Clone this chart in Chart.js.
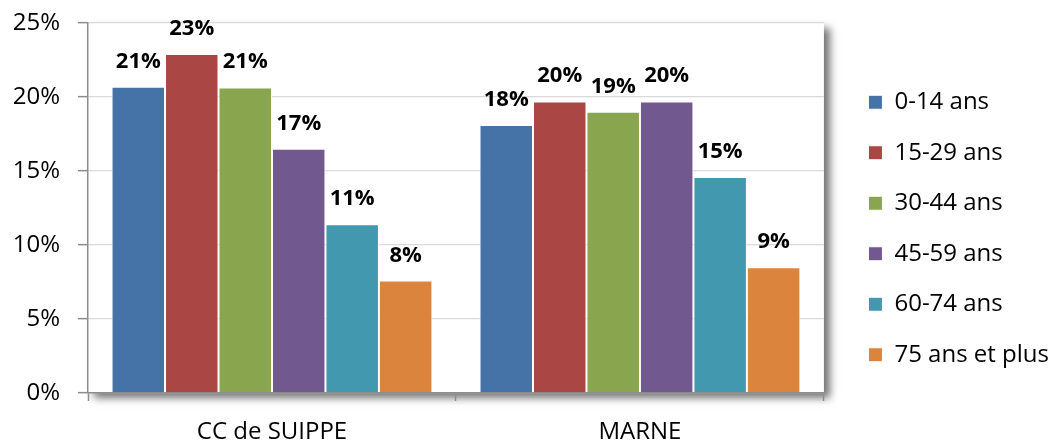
<!DOCTYPE html>
<html lang="fr">
<head>
<meta charset="utf-8">
<script src="https://cdn.jsdelivr.net/npm/chart.js@4/dist/chart.umd.min.js"></script>
<style>
	html, body { margin: 0; padding: 0; background: #fff; }
	.wrap { position: relative; width: 1059px; height: 442px; }
</style>
</head>
<body>
<div class="wrap"><canvas id="chart"></canvas></div>
<script>
// Population par tranche d'âge : CC de Suippe vs Marne (parts en %).
const CATEGORIES = ['CC de SUIPPE', 'MARNE'];
const AGE_GROUPS = ['0-14 ans', '15-29 ans', '30-44 ans', '45-59 ans', '60-74 ans', '75 ans et plus'];
const AGE_0_14 = [20.7, 18.1];
const AGE_15_29 = [22.9, 19.7];
const AGE_30_44 = [20.65, 19.0];
const AGE_45_59 = [16.5, 19.7];
const AGE_60_74 = [11.4, 14.6];
const AGE_75_PLUS = [7.6, 8.5];
const Y_TICKS = [0, 5, 10, 15, 20, 25];

const COLORS = ['#4572A7', '#AA4643', '#89A54E', '#71588F', '#4198AF', '#DB843D'];
const FONT = "'Open Sans', 'Noto Sans', sans-serif";
const AXIS_GREY = '#8c8c8c';

const SERIES = [AGE_0_14, AGE_15_29, AGE_30_44, AGE_45_59, AGE_60_74, AGE_75_PLUS];

// Plot-area drop shadow, as in the Excel original.
const plotShadow = {
	id: 'plotShadow',
	beforeDraw(chart) {
		const { ctx, chartArea: a } = chart;
		ctx.save();
		ctx.shadowColor = 'rgba(0, 0, 0, 0.55)';
		ctx.shadowBlur = 8;
		ctx.shadowOffsetX = 6;
		ctx.shadowOffsetY = 5;
		ctx.fillStyle = '#fff';
		ctx.fillRect(a.left, a.top, a.right - a.left, a.bottom - a.top);
		ctx.restore();
	},
};

// Bold percentage above each bar.
const barLabels = {
	id: 'barLabels',
	afterDatasetsDraw(chart) {
		const { ctx } = chart;
		ctx.save();
		ctx.font = `bold 22px ${FONT}`;
		ctx.fillStyle = '#000';
		ctx.textAlign = 'center';
		ctx.textBaseline = 'alphabetic';
		chart.data.datasets.forEach((ds, i) => {
			chart.getDatasetMeta(i).data.forEach((bar, j) => {
				ctx.fillText(`${Math.round(ds.data[j])}%`, bar.x, bar.y - 19);
			});
		});
		ctx.restore();
	},
};

const datasets = AGE_GROUPS.map((label, i) => ({
	label,
	data: SERIES[i],
	backgroundColor: COLORS[i],
	borderColor: '#ffffff',
	borderWidth: 1,
	categoryPercentage: 0.872,
	barPercentage: 1,
}));

new Chart(document.getElementById('chart'), {
	type: 'bar',
	data: { labels: CATEGORIES, datasets },
	plugins: [plotShadow, barLabels],
	options: {
		responsive: true,
		maintainAspectRatio: false,
		animation: false,
		layout: { padding: { top: 15, right: 0, bottom: 0, left: 0 } },
		plugins: {
			tooltip: { enabled: false },
			legend: {
				position: 'right',
				maxWidth: 300,
				labels: {
					color: '#000',
					font: { family: FONT, size: 24 },
					boxWidth: 14,
					boxHeight: 14,
					padding: 26.5,
				},
			},
		},
		scales: {
			x: {
				afterFit: (s) => { s.height = 49; },
				grid: { drawOnChartArea: false, drawTicks: true, tickLength: 8, tickColor: AXIS_GREY, tickWidth: 1.5 },
				border: { color: AXIS_GREY, width: 1.5 },
				ticks: { color: '#000', padding: 17, font: { family: FONT, size: 24 } },
			},
			y: {
				min: 0,
				max: 25,
				afterFit: (s) => {
					s.width = 88;
					s.paddingTop = 23;
					s.paddingBottom = 0;
				},
				afterBuildTicks: (s) => { s.ticks = Y_TICKS.map((v) => ({ value: v })); },
				grid: { color: '#d9d9d9', lineWidth: 1.3, tickLength: 10, tickColor: AXIS_GREY, tickWidth: 1.5 },
				border: { color: AXIS_GREY, width: 1.5 },
				ticks: { color: '#000', padding: 18, font: { family: FONT, size: 24 }, callback: (v) => `${v}%` },
			},
			gap: {
				position: 'right',
				afterFit: (s) => { s.width = 18; },
				grid: { display: false },
				border: { display: false },
				ticks: { display: false },
			},
		},
	},
});
</script>
</body>
</html>
